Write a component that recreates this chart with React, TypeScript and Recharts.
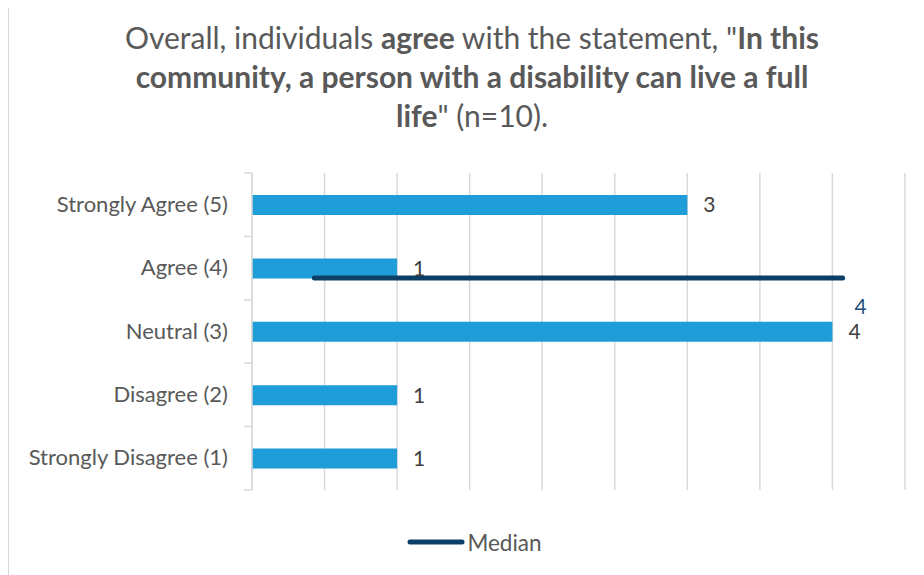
import {
  ComposedChart,
  Bar,
  XAxis,
  YAxis,
  CartesianGrid,
  LabelList,
  Legend,
  ReferenceLine,
  ReferenceDot,
} from "recharts";

const categories = [
  "Strongly Agree (5)",
  "Agree (4)",
  "Neutral (3)",
  "Disagree (2)",
  "Strongly Disagree (1)",
];
const levels = [5, 4, 3, 2, 1];
const counts = [3, 1, 4, 1, 1];
const xTicks = [0, 0.5, 1, 1.5, 2, 2.5, 3, 3.5, 4, 4.5];

// median drawn like the Excel series on the secondary axis
const medianValue = 4;
const medianStart = 0.43;
const medianEnd = 4.07;

const data = categories.map((label, i) => ({ label, level: levels[i], count: counts[i] }));

const FONT = "Lato, 'Open Sans', sans-serif";
const BAR = "#1e9dd8";
const NAVY = "#0d3f66";
const GRID = "#d9d9d9";
const BAND = 63.4;

const CategoryTick = (props: any) => {
  const { x, y, payload, index } = props;
  const axisX = x + 8;
  return (
    <g>
      <text
        x={x - 16}
        y={y}
        dy={7}
        textAnchor="end"
        fill="#595959"
        fontSize={22}
        fontFamily={FONT}
      >
        {payload.value}
      </text>
      {index === 0 && (
        <line x1={axisX - 8} x2={axisX} y1={y - BAND / 2} y2={y - BAND / 2} stroke={GRID} strokeWidth={1.5} />
      )}
      <line x1={axisX - 8} x2={axisX} y1={y + BAND / 2} y2={y + BAND / 2} stroke={GRID} strokeWidth={1.5} />
    </g>
  );
};

const MedianLegend = () => (
  <div
    style={{
      display: "flex",
      justifyContent: "center",
      alignItems: "center",
      height: 30,
      fontFamily: FONT,
      fontSize: 22.5,
      color: "#595959",
      paddingLeft: 16,
    }}
  >
    <svg width={58} height={10}>
      <line x1={3} x2={55} y1={5} y2={5} stroke={NAVY} strokeWidth={5} strokeLinecap="round" />
    </svg>
    <span style={{ marginLeft: 2 }}>Median</span>
  </div>
);

const MedianLabel = (props: any) => {
  const { viewBox } = props;
  const cx = viewBox.x + viewBox.width / 2;
  const cy = viewBox.y + viewBox.height / 2;
  return (
    <text x={cx + 18} y={cy + 36} textAnchor="middle" fill="#1f4e79" fontSize={21} fontFamily={FONT}>
      {medianValue}
    </text>
  );
};

export default function App() {
  return (
    <div
      style={{
        position: "relative",
        marginTop: -6,
        width: 915,
        height: 572,
        borderTop: `1px solid ${GRID}`,
        borderLeft: `1px solid ${GRID}`,
        background: "#fff",
        fontFamily: FONT,
      }}
    >
      <div
        style={{
          position: "absolute",
          top: 15,
          left: 43,
          width: 840,
          textAlign: "center",
          fontSize: 30,
          lineHeight: "39px",
          color: "#595959",
        }}
      >
        Overall, individuals <b>agree</b> with the statement, "<b>In this</b>
        <br />
        <b>community, a person with a disability can live a full</b>
        <br />
        <b>life</b>" (n=10).
      </div>
      <ComposedChart
        layout="vertical"
        width={915}
        height={572}
        data={data}
        margin={{ top: 170, right: 19, left: 0, bottom: 55 }}
        style={{ position: "absolute", top: 0, left: 0 }}
      >
        <CartesianGrid horizontal={false} stroke={GRID} strokeWidth={1.5} />
        <XAxis
          type="number"
          domain={[0, 4.5]}
          ticks={xTicks}
          axisLine={false}
          tickLine={false}
          tick={{ fill: "transparent", fontSize: 1 }}
          height={0}
        />
        <YAxis
          type="category"
          dataKey="label"
          width={243}
          axisLine={{ stroke: GRID, strokeWidth: 1.5 }}
          tickLine={false}
          tick={<CategoryTick />}
          interval={0}
        />
        {/* secondary axis: same levels, shifted like Excel's secondary scale */}
        <YAxis
          yAxisId="median"
          type="category"
          dataKey="level"
          padding={{ top: 14, bottom: 0 }}
          hide
          orientation="right"
        />
        <Legend
          verticalAlign="bottom"
          content={<MedianLegend />}
          wrapperStyle={{ top: 524, left: 0, width: 915 }}
        />
        <Bar dataKey="count" fill={BAR} barSize={20} isAnimationActive={false}>
          <LabelList
            dataKey="count"
            position="right"
            offset={16}
            fill="#404040"
            fontSize={21}
            fontFamily={FONT}
          />
        </Bar>
        <ReferenceLine
          yAxisId="median"
          segment={[
            { x: medianStart, y: medianValue },
            { x: medianEnd, y: medianValue },
          ]}
          stroke={NAVY}
          strokeWidth={5}
          strokeLinecap="round"
        />
        <ReferenceDot
          yAxisId="median"
          x={medianEnd}
          y={medianValue}
          r={0}
          stroke="none"
          fill="none"
          label={<MedianLabel />}
        />
      </ComposedChart>
    </div>
  );
}
